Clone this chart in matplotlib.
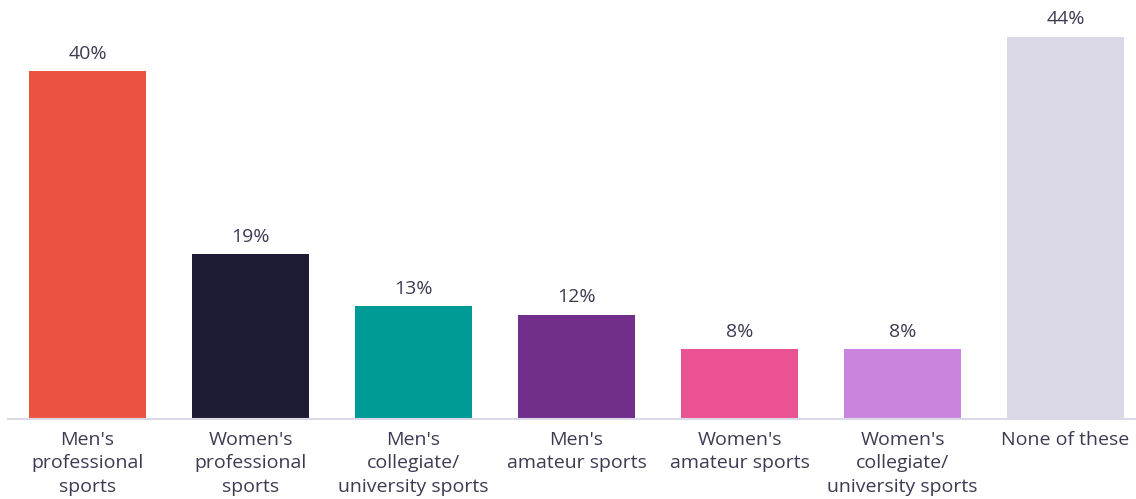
import matplotlib.pyplot as plt

# Share of respondents by sports category
categories = [
    "Men's\nprofessional\nsports",
    "Women's\nprofessional\nsports",
    "Men's\ncollegiate/\nuniversity sports",
    "Men's\namateur sports",
    "Women's\namateur sports",
    "Women's\ncollegiate/\nuniversity sports",
    "None of these",
]
values = [40, 19, 13, 12, 8, 8, 44]
colors = ['#EB5240', '#1E1C35', '#009B96', '#712E8A', '#EA5294', '#C984DE', '#DBD9E8']

text_color = '#3C3B52'
plt.rcParams['font.family'] = ['Open Sans', 'DejaVu Sans']

fig = plt.figure(figsize=(11.36, 4.99), dpi=100)
ax = fig.add_axes([0, 80 / 499, 1, 419 / 499])

x = range(len(values))
bars = ax.bar(x, values, width=0.718, color=colors, zorder=2)

for b, v in zip(bars, values):
    ax.text(b.get_x() + b.get_width() / 2, v + 0.95, f'{v}%',
            ha='center', va='bottom', fontsize=14, color=text_color)

ax.set_xlim(-0.537, 6.432)
ax.set_ylim(0, 48.2)

for s in ['top', 'right', 'left']:
    ax.spines[s].set_visible(False)
ax.spines['bottom'].set_color('#DBD9E8')
ax.spines['bottom'].set_linewidth(1.5)
ax.spines['bottom'].set_bounds(-0.488, 6.432)

ax.set_yticks([])
ax.set_xticks(list(x))
ax.set_xticklabels(categories, fontsize=14, color=text_color, linespacing=1.4)
ax.tick_params(axis='x', length=0, pad=8.5)

fig.savefig('out.png', dpi=100)
